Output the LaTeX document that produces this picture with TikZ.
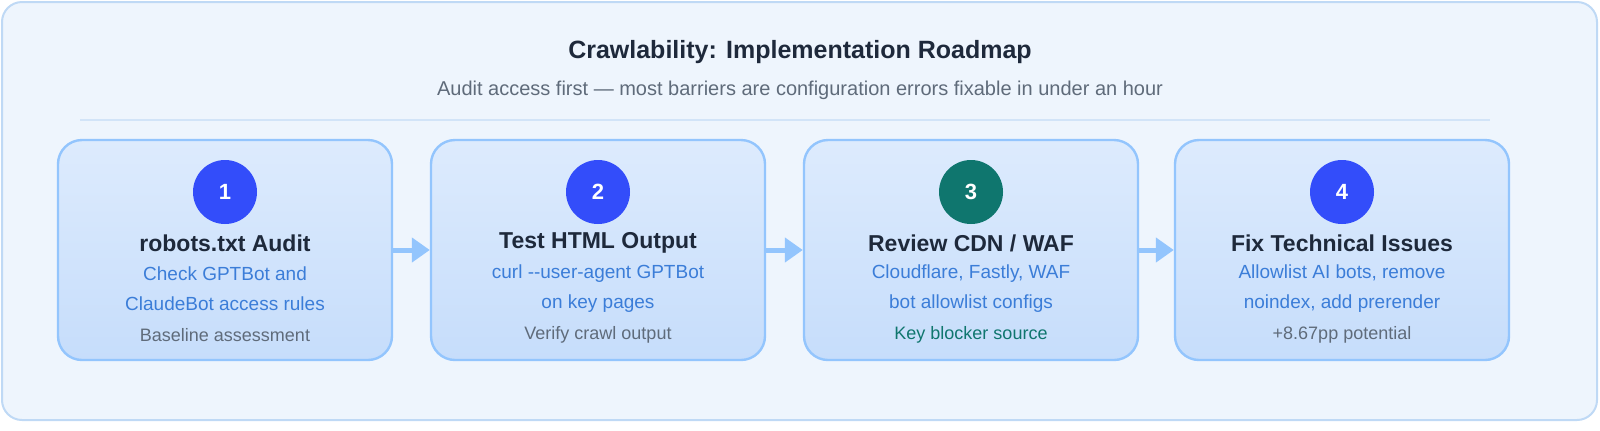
\documentclass[tikz,border=0pt]{standalone}
\usepackage{fontspec}
\setmainfont{Liberation Sans}
\usetikzlibrary{positioning,arrows.meta}
\definecolor{pagebg}{HTML}{EEF5FD}
\definecolor{pageline}{HTML}{BFD9F5}
\definecolor{boxtop}{HTML}{DDEBFD}
\definecolor{boxbot}{HTML}{C6DDFB}
\definecolor{boxline}{HTML}{93C5FD}
\definecolor{numblue}{HTML}{334DFA}
\definecolor{numteal}{HTML}{0F766E}
\definecolor{titlecol}{HTML}{1E293B}
\definecolor{bluetext}{HTML}{3B7DD8}
\definecolor{graytext}{HTML}{5F6B7A}
\tikzset{
  stepbox/.style = {draw=boxline, line width=1.2pt, rounded corners=12pt,
                    top color=boxtop, bottom color=boxbot,
                    minimum width=167pt, minimum height=110pt},
  numdot/.style  = {circle, fill=numblue, minimum size=32pt, inner sep=0pt,
                    text=white, font=\fontsize{11}{13}\selectfont\bfseries},
  steptitle/.style = {text=titlecol, font=\fontsize{11.5}{13}\selectfont\bfseries},
  stepnote/.style  = {text=bluetext, align=center,
                      font=\fontsize{9.5}{15}\selectfont},
  stepfoot/.style  = {text=graytext, font=\fontsize{9}{11}\selectfont},
  flow/.style      = {draw=boxline, line width=2.5pt,
                      -{Triangle[length=9pt,width=12pt]}}
}
\begin{document}
\begin{tikzpicture}[x=0.5pt,y=-0.5pt]
  \draw[fill=pagebg, draw=pageline, line width=1pt, rounded corners=10pt]
    (2,2) rectangle (1597,420);
  \node[text=titlecol, font=\fontsize{12.5}{14}\selectfont\bfseries] (title)
    at (800,52) {Crawlability: Implementation Roadmap};
  \node[text=graytext, font=\fontsize{10}{12}\selectfont] (subtitle)
    at (800,90) {Audit access first — most barriers are configuration errors fixable in under an hour};
  \draw[pageline!70, line width=0.6pt] (80,120) -- (1490,120);
  % steps
  \node[stepbox] (b1) at (225,250) {};
  \node[stepbox] (b2) at (598,250) {};
  \node[stepbox] (b3) at (971,250) {};
  \node[stepbox] (b4) at (1342,250) {};
  \node[numdot] (n1) at (225,192) {1};
  \node[numdot] (n2) at (598,192) {2};
  \node[numdot, fill=numteal] (n3) at (971,192) {3};
  \node[numdot] (n4) at (1342,192) {4};
  \node[steptitle] (t1) at (225,243) {robots.txt Audit};
  \node[steptitle] (t2) at (598,243) {Test HTML Output};
  \node[steptitle] (t3) at (971,243) {Review CDN / WAF};
  \node[steptitle] (t4) at (1342,243) {Fix Technical Issues};
  \node[stepnote] (d1) at (225,289) {Check GPTBot and\\ClaudeBot access rules};
  \node[stepnote] (d2) at (598,289) {curl {-}{-}user-agent GPTBot\\on key pages};
  \node[stepnote] (d3) at (971,289) {Cloudflare, Fastly, WAF\\bot allowlist configs};
  \node[stepnote] (d4) at (1342,289) {Allowlist AI bots, remove\\noindex, add prerender};
  \node[stepfoot] (f1) at (225,335) {Baseline assessment};
  \node[stepfoot] (f2) at (598,335) {Verify crawl output};
  \node[stepfoot, text=numteal] (f3) at (971,335) {Key blocker source};
  \node[stepfoot] (f4) at (1342,335) {+8.67pp potential};
  \draw[flow] (b1) -- (b2);
  \draw[flow] (b2) -- (b3);
  \draw[flow] (b3) -- (b4);
  \pgfresetboundingbox
  \useasboundingbox (0,0) rectangle (1600,430);
\end{tikzpicture}
\end{document}
